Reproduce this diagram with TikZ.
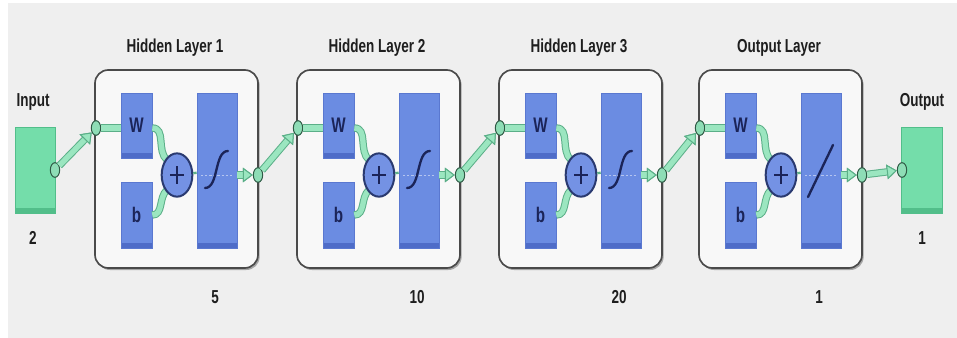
\documentclass[tikz,border=0pt]{standalone}
\usepackage{fontspec}
\setmainfont{Liberation Sans}
\usetikzlibrary{arrows.meta,shapes.geometric,shadows}
\definecolor{bgc}{HTML}{EFEFEF}
\definecolor{layerfill}{HTML}{F8F8F8}
\definecolor{layeredge}{HTML}{4A4A4A}
\definecolor{blueA}{HTML}{6B8CE2}
\definecolor{blueD}{HTML}{4E6CC8}
\definecolor{blueE}{HTML}{5A78D0}
\definecolor{navy}{HTML}{1B2458}
\definecolor{greenA}{HTML}{74DDAA}
\definecolor{greenD}{HTML}{52BE8A}
\definecolor{wirefill}{HTML}{9BE6C0}
\definecolor{wireedge}{HTML}{5BAF88}
\definecolor{portfill}{HTML}{8EDDB6}
\definecolor{portedge}{HTML}{2F5A45}
\definecolor{sumfill}{HTML}{7492E4}
\definecolor{sumedge}{HTML}{2A3A70}
\definecolor{txtc}{HTML}{1E1E1E}
\newcommand\lbl[1]{\scalebox{0.72}[1]{\bfseries #1}}
\begin{document}
\begin{tikzpicture}[x=0.03cm,y=-0.03cm,
  txt/.style={font=\fontsize{16}{18}\selectfont, text=txtc, inner sep=0},
  layerbox/.style={draw=layeredge, fill=layerfill, line width=0.05cm, rounded corners=0.4cm,
    minimum width=4.89cm, minimum height=5.94cm, inner sep=0,
    drop shadow={shadow xshift=0.05cm, shadow yshift=-0.06cm, fill=black, opacity=0.3}},
  bluebox/.style={fill=blueA, draw=blueE, line width=0.02cm, inner sep=0,
    font=\fontsize{18}{20}\selectfont, text=navy,
    path picture={\fill[blueD] ([yshift=0.16cm]path picture bounding box.south west) rectangle (path picture bounding box.south east);}},
  greenbox/.style={fill=greenA, draw=greenD, line width=0.02cm, inner sep=0,
    path picture={\fill[greenD] ([yshift=0.16cm]path picture bounding box.south west) rectangle (path picture bounding box.south east);}},
  port/.style={ellipse, draw=portedge, fill=portfill, line width=0.03cm, minimum width=0.28cm, minimum height=0.44cm, inner sep=0},
  sumnode/.style={ellipse, draw=sumedge, fill=sumfill, line width=0.06cm, minimum width=0.92cm, minimum height=1.3cm, inner sep=0},
  wire/.style={draw=wirefill, line width=0.16cm, preaction={draw=wireedge, line width=0.22cm}},
  wtip/.style={-{Triangle[length=0.3cm,width=0.44cm,line width=0.03cm,fill=wirefill,color=wireedge]}},
  thinwire/.style={draw=wireedge, line width=0.07cm},
  icon/.style={draw=navy, line width=0.07cm, line cap=round},
  plussign/.style={draw=navy, line width=0.08cm}
]
\useasboundingbox (0,0) rectangle (957,338);
\fill[white] (0,0) rectangle (957,338);
\fill[bgc] (8,3) rectangle (957,338);

% input block
\node[greenbox, minimum width=1.2cm, minimum height=2.58cm] (In) at (35,170) {};
\node[port] (InP) at (55,170) {};
\node[txt] (InT) at (33,102) {\lbl{Input}};
\node[txt] (InN) at (33,238) {\lbl{2}};

% output block
\node[greenbox, minimum width=1.23cm, minimum height=2.58cm] (Out) at (921.5,170) {};
\node[port] (OutP) at (902,170) {};
\node[txt] (OutT) at (922,102) {\lbl{Output}};
\node[txt] (OutN) at (922,238) {\lbl{1}};

\foreach \Lx/\i/\num/\t in {95/1/5/Hidden Layer 1, 297/2/10/Hidden Layer 2, 499/3/20/Hidden Layer 3, 699/4/1/Output Layer}{
  \node[layerbox] (L\i) at (\Lx+81.5,169) {};
  \node[txt] (T\i) at (\Lx+80,48) {\lbl{\t}};
  \node[txt] (N\i) at (\Lx+120,297) {\lbl{\num}};
  \node[bluebox, minimum width=0.93cm, minimum height=1.95cm] (W\i) at (\Lx+41.5,125.5) {\lbl{W}};
  \node[bluebox, minimum width=0.93cm, minimum height=1.98cm] (B\i) at (\Lx+41.5,215) {\lbl{b}};
  \node[bluebox, minimum width=1.2cm, minimum height=4.65cm] (F\i) at (\Lx+122,170.5) {};
  \node[port] (I\i) at (\Lx+1,128) {};
  \node[port] (O\i) at (\Lx+163,175) {};
  \draw[wire] (I\i) -- (I\i -| W\i.west);
  \draw[wire] (W\i.east |- I\i) to[out=0,in=140] (\Lx+72,160);
  \draw[wire] (B\i.east) to[out=0,in=-140] (\Lx+72,190);
  \node[sumnode] (P\i) at (\Lx+82,175) {};
  \draw[plussign] (\Lx+75,175) -- (\Lx+89,175) (\Lx+82,166) -- (\Lx+82,184);
  \draw[thinwire] (P\i) -- (F\i);
  \draw[white, opacity=0.5, line width=0.03cm, dash pattern=on 2pt off 1.5pt] (\Lx+106,175) -- (\Lx+138,175);
  \draw[wire,wtip] (F\i.east |- O\i) -- (O\i);
}
\foreach \Lx in {95,297,499}{
  \draw[icon] (\Lx+110,188) .. controls (\Lx+124,188) and (\Lx+119,151) .. (\Lx+133,151);
}
\draw[icon] (808,197) -- (833,145);

\draw[wire,wtip] (InP) -- (I1);
\draw[wire,wtip] (O1) -- (I2);
\draw[wire,wtip] (O2) -- (I3);
\draw[wire,wtip] (O3) -- (I4);
\draw[wire,wtip] (O4) -- (OutP);
\end{tikzpicture}
\end{document}
